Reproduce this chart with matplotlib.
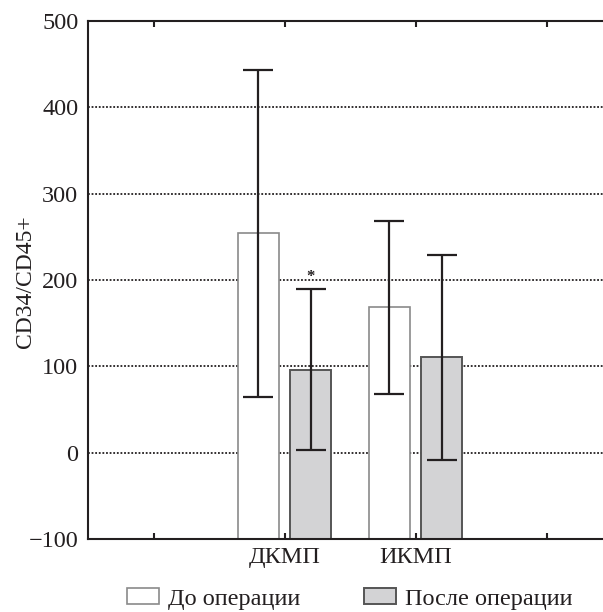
import matplotlib.pyplot as plt
import matplotlib.patches as mpatches
import numpy as np

plt.rcParams['font.family'] = ['Liberation Serif', 'DejaVu Serif']
plt.rcParams['axes.unicode_minus'] = True

# data
groups = ['ДКМП', 'ИКМП']
group_pos = [2, 3]
before = [254, 169]
before_lo = [64, 68]
before_hi = [443, 268]
after = [96, 111]
after_lo = [3, -9]
after_hi = [189, 229]
series_names = ['До операции', 'После операции']

ink = '#231f20'
gray_fill = '#d3d3d5'

fig = plt.figure(figsize=(6.03, 6.12), dpi=100)
ax = fig.add_axes([88/603, 73/612, 524/603, 518/612])

pos = np.array(group_pos, dtype=float)
w = 0.31
base = -100

b1 = np.array(before)
b2 = np.array(after)
ax.bar(pos - 0.2, b1 - base, w, bottom=base, color='white',
       edgecolor='#8a8a8a', linewidth=1.2, zorder=2)
ax.bar(pos + 0.2, b2 - base, w, bottom=base, color=gray_fill,
       edgecolor='#555555', linewidth=1.4, zorder=2)

err1 = [b1 - np.array(before_lo), np.array(before_hi) - b1]
err2 = [b2 - np.array(after_lo), np.array(after_hi) - b2]
ax.errorbar(pos - 0.2, b1, yerr=err1, fmt='none', ecolor=ink,
            elinewidth=1.6, capsize=11, capthick=1.6, zorder=3)
ax.errorbar(pos + 0.2, b2, yerr=err2, fmt='none', ecolor=ink,
            elinewidth=1.6, capsize=11, capthick=1.6, zorder=3)

# significance mark
ax.text(pos[0] + 0.2, after_hi[0] + 5, '*', ha='center', va='bottom',
        fontsize=12, fontweight='bold', color=ink, zorder=4)

ax.set_xlim(0.5, 4.5)
ax.set_ylim(-100, 500)
ax.set_yticks([-100, 0, 100, 200, 300, 400, 500])
ax.set_xticks([1, 2, 3, 4])
ax.set_xticklabels(['', groups[0], groups[1], ''])

for y in [0, 100, 200, 300, 400]:
    ax.axhline(y, color=ink, linestyle=(0, (1, 1)), linewidth=1.3, zorder=1)

for s in ['left', 'top', 'bottom']:
    ax.spines[s].set_linewidth(1.5)
    ax.spines[s].set_color(ink)
ax.spines['right'].set_visible(False)

ax.tick_params(axis='x', direction='in', length=4, width=1.5, color=ink,
               top=True, labelsize=17.5, labelcolor=ink, pad=6)
ax.tick_params(axis='y', direction='in', length=0, labelsize=17.5,
               labelcolor=ink, pad=7)
ax.set_ylabel('CD34/CD45+', fontsize=17, color=ink)
ax.yaxis.set_label_coords(-0.1, 0.496)

handles = [
    mpatches.Patch(facecolor='white', edgecolor='#8a8a8a', linewidth=1.2),
    mpatches.Patch(facecolor=gray_fill, edgecolor='#555555', linewidth=1.4),
]
fig.legend(handles, series_names, loc='lower center', ncol=2,
           bbox_to_anchor=(0.58, -0.032), frameon=False, fontsize=17.5,
           handlelength=1.32, handleheight=0.6, handletextpad=0.37,
           columnspacing=2.6, labelcolor=ink)

fig.savefig('out.png', dpi=100)
